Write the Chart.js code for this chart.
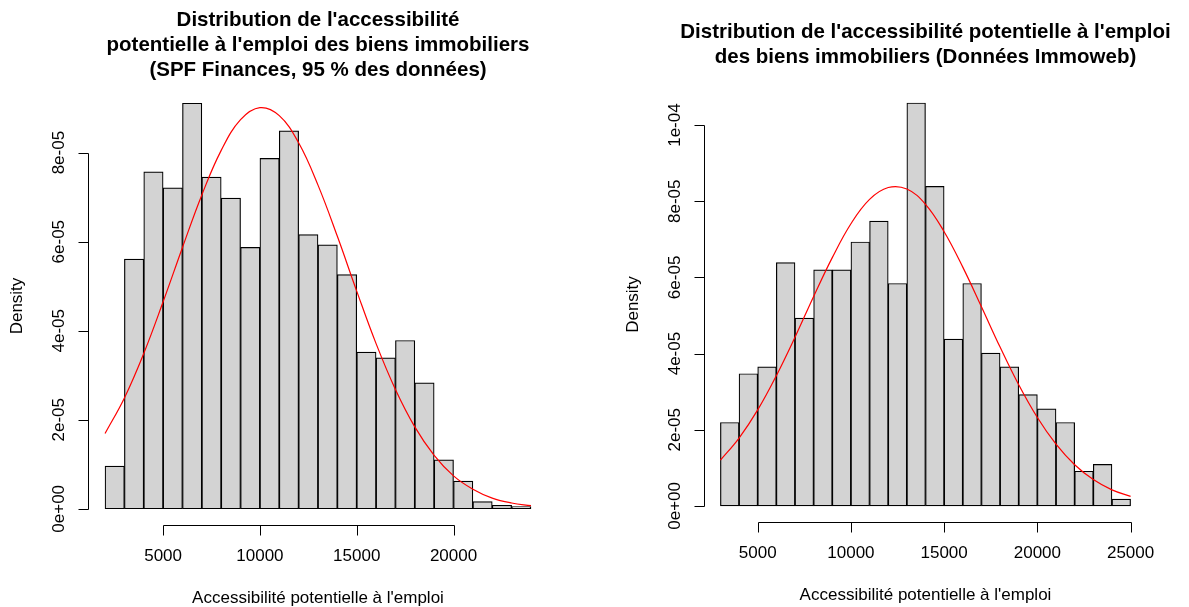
<!DOCTYPE html>
<html lang="fr">
<head>
    <meta charset="UTF-8">
    <title>Distribution de l'accessibilité potentielle à l'emploi</title>
    <script src="https://cdn.jsdelivr.net/npm/chart.js"></script>
    <style>
        body { margin: 0; background: #fff; }
        .panel { position: absolute; top: 0; height: 607px; }
        #left-panel { left: 0; width: 594px; }
        #right-panel { left: 594px; width: 595px; }
    </style>
</head>
<body>
    <div class="panel" id="left-panel"><canvas id="spf-hist" width="594" height="607"></canvas></div>
    <div class="panel" id="right-panel"><canvas id="immoweb-hist" width="595" height="607"></canvas></div>

    <script>
        // --- SPF Finances (95 % des données) ---
        const spfBreaks = [2000, 3000, 4000, 5000, 6000, 7000, 8000, 9000, 10000, 11000, 12000, 13000,
                           14000, 15000, 16000, 17000, 18000, 19000, 20000, 21000, 22000, 23000, 24000];
        const spfDensity = [0.96e-5, 5.61e-5, 7.57e-5, 7.21e-5, 9.11e-5, 7.45e-5, 6.98e-5, 5.87e-5,
                            7.87e-5, 8.49e-5, 6.16e-5, 5.93e-5, 5.26e-5, 3.52e-5, 3.39e-5, 3.78e-5,
                            2.83e-5, 1.10e-5, 0.62e-5, 0.16e-5, 0.08e-5, 0.05e-5];
        // red normal curve, read every 1000
        const spfCurveX = [2000, 3000, 4000, 5000, 6000, 7000, 8000, 9000, 10000, 11000, 12000, 13000,
                           14000, 15000, 16000, 17000, 18000, 19000, 20000, 21000, 22000, 23000, 24000];
        const spfCurveY = [1.69e-5, 2.49e-5, 3.49e-5, 4.65e-5, 5.87e-5, 7.05e-5, 8.05e-5, 8.74e-5,
                           9.01e-5, 8.83e-5, 8.22e-5, 7.27e-5, 6.12e-5, 4.89e-5, 3.71e-5, 2.68e-5,
                           1.84e-5, 1.20e-5, 0.74e-5, 0.44e-5, 0.24e-5, 0.13e-5, 0.07e-5];
        const spfXTicks = [5000, 10000, 15000, 20000];
        const spfYTicks = [0, 2e-5, 4e-5, 6e-5, 8e-5];
        const spfYLabels = ['0e+00', '2e-05', '4e-05', '6e-05', '8e-05'];
        const spfTitle = ["Distribution de l'accessibilité",
                          "potentielle à l'emploi des biens immobiliers",
                          "(SPF Finances, 95 % des données)"];

        // --- Immoweb ---
        const immoBreaks = [3000, 4000, 5000, 6000, 7000, 8000, 9000, 10000, 11000, 12000, 13000, 14000,
                            15000, 16000, 17000, 18000, 19000, 20000, 21000, 22000, 23000, 24000, 25000];
        const immoDensity = [2.19e-5, 3.47e-5, 3.65e-5, 6.39e-5, 4.93e-5, 6.20e-5, 6.20e-5, 6.93e-5,
                             7.48e-5, 5.84e-5, 10.58e-5, 8.39e-5, 4.38e-5, 5.84e-5, 4.01e-5, 3.65e-5,
                             2.92e-5, 2.55e-5, 2.19e-5, 0.91e-5, 1.09e-5, 0.18e-5];
        const immoCurveX = [3000, 4000, 5000, 6000, 7000, 8000, 9000, 10000, 11000, 12000, 13000, 14000,
                            15000, 16000, 17000, 18000, 19000, 20000, 21000, 22000, 23000, 24000, 25000];
        const immoCurveY = [1.20e-5, 1.78e-5, 2.52e-5, 3.42e-5, 4.43e-5, 5.50e-5, 6.52e-5, 7.41e-5,
                            8.05e-5, 8.36e-5, 8.32e-5, 7.92e-5, 7.20e-5, 6.27e-5, 5.23e-5, 4.17e-5,
                            3.18e-5, 2.32e-5, 1.62e-5, 1.08e-5, 0.69e-5, 0.42e-5, 0.25e-5];
        const immoXTicks = [5000, 10000, 15000, 20000, 25000];
        const immoYTicks = [0, 2e-5, 4e-5, 6e-5, 8e-5, 1e-4];
        const immoYLabels = ['0e+00', '2e-05', '4e-05', '6e-05', '8e-05', '1e-04'];
        const immoTitle = ["Distribution de l'accessibilité potentielle à l'emploi",
                           "des biens immobiliers (Données Immoweb)"];

        const xLabel = "Accessibilité potentielle à l'emploi";
        const yLabel = 'Density';
        const FONT = '"Liberation Sans", Arial, Helvetica, sans-serif';

        // R-style axes, titles and labels drawn from the chart's own scales
        const rAxesPlugin = {
            id: 'rAxes',
            afterDraw(chart, args, opts) {
                const ctx = chart.ctx;
                const area = chart.chartArea;
                const xs = chart.scales.x, ys = chart.scales.y;
                ctx.save();
                ctx.strokeStyle = '#000';
                ctx.fillStyle = '#000';
                ctx.lineWidth = 1;

                // x axis
                const yAxis = Math.round(area.bottom) + 0.5;
                const xFirst = Math.round(xs.getPixelForValue(opts.xTicks[0])) + 0.5;
                const xLast = Math.round(xs.getPixelForValue(opts.xTicks[opts.xTicks.length - 1])) + 0.5;
                ctx.beginPath();
                ctx.moveTo(xFirst, yAxis);
                ctx.lineTo(xLast, yAxis);
                opts.xTicks.forEach(t => {
                    const px = Math.round(xs.getPixelForValue(t)) + 0.5;
                    ctx.moveTo(px, yAxis);
                    ctx.lineTo(px, yAxis + 10);
                });
                ctx.stroke();
                ctx.font = '17px ' + FONT;
                ctx.textAlign = 'center';
                ctx.textBaseline = 'middle';
                opts.xTicks.forEach(t => {
                    ctx.fillText(String(t), xs.getPixelForValue(t), area.bottom + 31);
                });

                // y axis
                const xAxis = Math.round(area.left) + 0.5;
                const yFirst = Math.round(ys.getPixelForValue(opts.yTicks[0])) + 0.5;
                const yLast = Math.round(ys.getPixelForValue(opts.yTicks[opts.yTicks.length - 1])) + 0.5;
                ctx.beginPath();
                ctx.moveTo(xAxis, yFirst);
                ctx.lineTo(xAxis, yLast);
                opts.yTicks.forEach(t => {
                    const py = Math.round(ys.getPixelForValue(t)) + 0.5;
                    ctx.moveTo(xAxis, py);
                    ctx.lineTo(xAxis - 10, py);
                });
                ctx.stroke();
                opts.yTicks.forEach((t, i) => {
                    ctx.save();
                    ctx.translate(area.left - 29, ys.getPixelForValue(t));
                    ctx.rotate(-Math.PI / 2);
                    ctx.fillText(opts.yLabels[i], 0, 0);
                    ctx.restore();
                });

                // axis titles
                const cx = (area.left + area.right) / 2;
                ctx.fillText(xLabel, cx, area.bottom + 73);
                ctx.save();
                ctx.translate(area.left - 71, (area.top + area.bottom) / 2);
                ctx.rotate(-Math.PI / 2);
                ctx.fillText(yLabel, 0, 0);
                ctx.restore();

                // main title
                ctx.font = 'bold 20.5px ' + FONT;
                opts.title.forEach((line, i) => {
                    ctx.fillText(line, cx, opts.titleTop + i * 25);
                });
                ctx.restore();
            }
        };

        function makeHist(canvasId, breaks, density, curveX, curveY, cfg) {
            const bars = density.map((d, i) => ({ x: (breaks[i] + breaks[i + 1]) / 2, y: d }));
            const curve = curveX.map((x, i) => ({ x: x, y: curveY[i] }));
            new Chart(document.getElementById(canvasId), {
                type: 'bar',
                data: {
                    datasets: [
                        {
                            type: 'line',
                            data: curve,
                            borderColor: '#ff0000',
                            borderWidth: 1.2,
                            pointRadius: 0,
                            tension: 0.4,
                            fill: false,
                            order: 0
                        },
                        {
                            data: bars,
                            backgroundColor: '#d3d3d3',
                            borderColor: '#000',
                            borderWidth: 1.2,
                            borderSkipped: false,
                            barPercentage: 1,
                            categoryPercentage: 1,
                            order: 1
                        }
                    ]
                },
                options: {
                    responsive: false,
                    animation: false,
                    events: [],
                    layout: { padding: cfg.padding },
                    scales: {
                        x: { type: 'linear', display: false, offset: false, min: cfg.xMin, max: cfg.xMax },
                        y: { type: 'linear', display: false, min: cfg.yMin, max: cfg.yMax }
                    },
                    plugins: {
                        legend: { display: false },
                        tooltip: { enabled: false },
                        rAxes: cfg.axes
                    }
                },
                plugins: [rAxesPlugin]
            });
        }

        makeHist('spf-hist', spfBreaks, spfDensity, spfCurveX, spfCurveY, {
            padding: { left: 88, right: 46, top: 87, bottom: 82 },
            xMin: 1120, xMax: 24880, yMin: -3.64e-6, yMax: 9.474e-5,
            axes: { xTicks: spfXTicks, yTicks: spfYTicks, yLabels: spfYLabels, title: spfTitle, titleTop: 20 }
        });

        makeHist('immoweb-hist', immoBreaks, immoDensity, immoCurveX, immoCurveY, {
            padding: { left: 110, right: 42, top: 87, bottom: 85 },
            xMin: 2120, xMax: 25880, yMin: -4.23e-6, yMax: 11.0e-5,
            axes: { xTicks: immoXTicks, yTicks: immoYTicks, yLabels: immoYLabels, title: immoTitle, titleTop: 32 }
        });
    </script>
</body>
</html>
